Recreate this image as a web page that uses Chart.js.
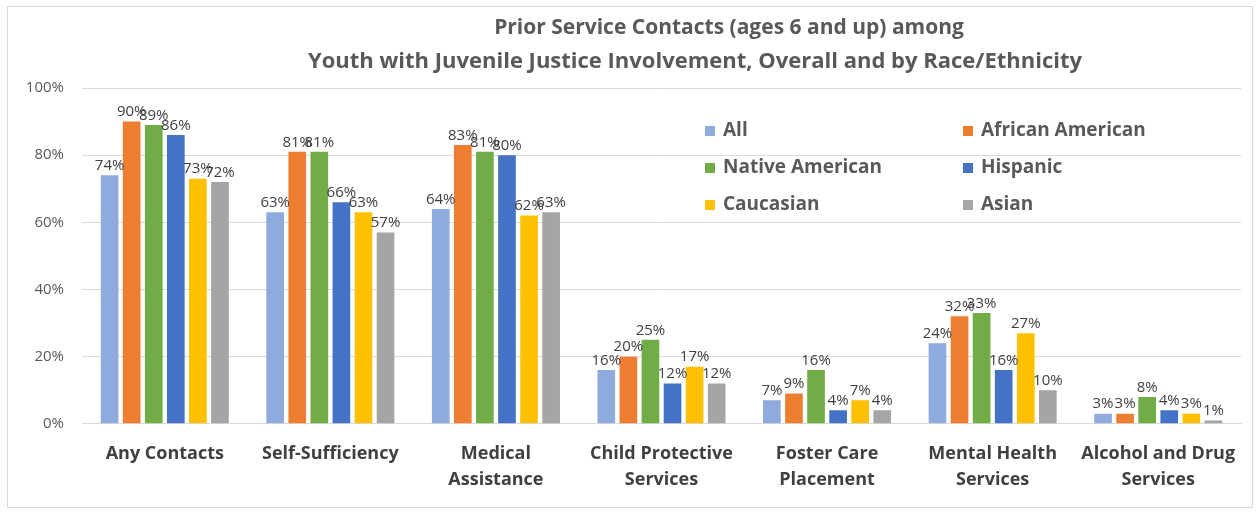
<!DOCTYPE html>
<html>
<head>
<meta charset="utf-8">
<script src="https://cdn.jsdelivr.net/npm/chart.js@4/dist/chart.umd.min.js"></script>
<style>
  html, body { margin: 0; padding: 0; background: #fff; }
  #frame {
    position: absolute; left: 7px; top: 6px;
    width: 1246px; height: 502px;
    border: 1px solid #d9d9d9; box-sizing: border-box;
  }
  #frame canvas { display: block; }
</style>
</head>
<body>
<div id="frame"><canvas id="servicesChart" width="1244" height="500"></canvas></div>
<script>
// Catégories et valeurs (%)
const categories = [
  ['Any Contacts'],
  ['Self-Sufficiency'],
  ['Medical', 'Assistance'],
  ['Child Protective', 'Services'],
  ['Foster Care', 'Placement'],
  ['Mental Health', 'Services'],
  ['Alcohol and Drug', 'Services']
];
const seriesNames = ['All', 'African American', 'Native American', 'Hispanic', 'Caucasian', 'Asian'];
const seriesColors = ['#8faadc', '#ed7d31', '#70ad47', '#4472c4', '#ffc000', '#a5a5a5'];

const allYouth        = [74, 63, 64, 16, 7, 24, 3];
const africanAmerican = [90, 81, 83, 20, 9, 32, 3];
const nativeAmerican  = [89, 81, 81, 25, 16, 33, 8];
const hispanic        = [86, 66, 80, 12, 4, 16, 4];
const caucasian       = [73, 63, 62, 17, 7, 27, 3];
const asian           = [72, 57, 63, 12, 4, 10, 1];

const yTicks = [0, 20, 40, 60, 80, 100];
const titleLines = [
  'Prior Service Contacts (ages 6 and up) among',
  'Youth with Juvenile Justice Involvement, Overall and by Race/Ethnicity'
];

const FONT = '"Open Sans", "DejaVu Sans", sans-serif';
const TEXT = '#404040';

// Titre sur deux lignes
const titlePlugin = {
  id: 'twoLineTitle',
  afterDraw(chart) {
    const { ctx } = chart;
    ctx.save();
    ctx.fillStyle = '#595959';
    ctx.textAlign = 'center';
    ctx.textBaseline = 'alphabetic';
    ctx.font = 'bold 21px ' + FONT;
    ctx.fillText(titleLines[0], 721, 27);
    ctx.font = 'bold 22px ' + FONT;
    ctx.fillText(titleLines[1], 687, 61);
    ctx.restore();
  }
};

// Étiquettes de valeur au-dessus des barres
const valueLabels = {
  id: 'valueLabels',
  afterDatasetsDraw(chart) {
    const { ctx } = chart;
    ctx.save();
    ctx.font = '15px ' + FONT;
    ctx.fillStyle = TEXT;
    ctx.textAlign = 'center';
    ctx.textBaseline = 'bottom';
    chart.data.datasets.forEach((ds, i) => {
      chart.getDatasetMeta(i).data.forEach((bar, j) => {
        ctx.fillText(ds.data[j] + '%', bar.x, bar.y - 2);
      });
    });
    ctx.restore();
  }
};

// Légende en deux colonnes dans la zone du graphique
const insideLegend = {
  id: 'insideLegend',
  afterDraw(chart) {
    const { ctx, chartArea } = chart;
    const x0 = chartArea.left + 623;
    const colW = 258;
    const y0 = chartArea.top + 43;
    const rowH = 37;
    ctx.save();
    ctx.font = 'bold 19px ' + FONT;
    ctx.textBaseline = 'middle';
    ctx.textAlign = 'left';
    seriesNames.forEach((name, i) => {
      const x = x0 + (i % 2) * colW;
      const y = y0 + Math.floor(i / 2) * rowH;
      ctx.fillStyle = seriesColors[i];
      ctx.fillRect(x, y - 5, 10, 10);
      ctx.fillStyle = '#595959';
      ctx.fillText(name, x + 18, y);
    });
    ctx.restore();
  }
};

const seriesData = [allYouth, africanAmerican, nativeAmerican, hispanic, caucasian, asian];

new Chart(document.getElementById('servicesChart'), {
  type: 'bar',
  data: {
    labels: categories,
    datasets: seriesNames.map((name, i) => ({
      label: name,
      data: seriesData[i],
      backgroundColor: seriesColors[i],
      categoryPercentage: 0.8,
      barPercentage: 0.8
    }))
  },
  options: {
    responsive: false,
    animation: false,
    layout: { padding: { top: 81, left: 0, right: 11, bottom: 5 } },
    plugins: {
      legend: { display: false },
      title: { display: false },
      tooltip: { enabled: false }
    },
    scales: {
      x: {
        grid: { display: false },
        border: { color: '#d9d9d9' },
        ticks: {
          color: TEXT,
          font: { family: FONT, size: 18, weight: 'bold', lineHeight: 1.45 },
          padding: 9
        }
      },
      y: {
        min: 0,
        max: 100,
        afterBuildTicks(axis) { axis.ticks = yTicks.map(v => ({ value: v })); },
        afterFit(axis) { axis.width = 74; },
        grid: { color: '#d9d9d9', drawTicks: false },
        border: { display: false },
        ticks: {
          color: '#595959',
          font: { family: FONT, size: 15 },
          padding: 18,
          callback: v => v + '%'
        }
      }
    }
  },
  plugins: [titlePlugin, valueLabels, insideLegend]
});
</script>
</body>
</html>
